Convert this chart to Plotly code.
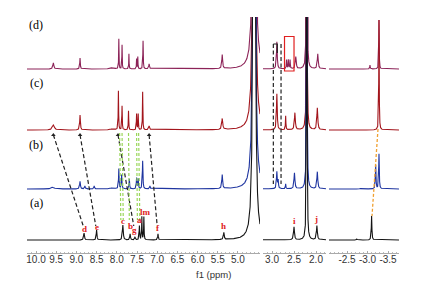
import numpy as np
import plotly.graph_objects as go

# ---------------- data: peak tables ----------------
# chemical shift (ppm), height (plot units), half-width (ppm)
SHIFT_A  = [8.81, 8.50, 7.85, 7.67, 7.55, 7.44, 7.38, 7.33, 6.98, 5.35, 4.60, 2.50, 2.21, 1.98, -2.74, -3.10]
HEIGHT_A = [7, 10, 15, 6, 3, 14, 23, 23, 6, 7, 1500, 13, 1000, 14, 1, 24]
WIDTH_A  = [0.012, 0.01, 0.012, 0.01, 0.01, 0.008, 0.006, 0.006, 0.01, 0.012, 0.015, 0.012, 0.004, 0.012, 0.01, 0.008]

SHIFT_B  = [9.58, 8.91, 8.79, 8.56, 8.10, 7.95, 7.88, 7.69, 7.51, 7.47, 7.36, 7.18, 5.39, 4.60, 2.89, 2.86, 2.69, 2.49, 2.21, 1.97, -2.82, -3.20, -3.28]
HEIGHT_B = [2, 7.5, 3, 3, 1.5, 20, 14, 10, 11, 10, 28, 3, 14, 1500, 17, 8, 5, 16, 1000, 17, 0.6, 24, 35]
WIDTH_B  = [0.04, 0.012, 0.01, 0.01, 0.05, 0.008, 0.008, 0.008, 0.008, 0.008, 0.008, 0.01, 0.012, 0.015, 0.01, 0.008, 0.006, 0.012, 0.004, 0.012, 0.01, 0.008, 0.008]

SHIFT_C  = [9.57, 8.91, 8.10, 7.96, 7.87, 7.71, 7.51, 7.47, 7.36, 7.20, 5.39, 4.60, 2.89, 2.69, 2.48, 2.21, 1.97, -3.28]
HEIGHT_C = [5, 15, 1.5, 39, 24, 19, 16, 16, 38, 4, 11, 1500, 36, 14, 17, 1000, 22, 110]
WIDTH_C  = [0.03, 0.01, 0.05, 0.006, 0.006, 0.006, 0.006, 0.006, 0.006, 0.015, 0.015, 0.015, 0.01, 0.006, 0.012, 0.004, 0.012, 0.006]

SHIFT_D  = [9.57, 8.91, 8.10, 7.95, 7.87, 7.70, 7.51, 7.48, 7.35, 7.20, 5.39, 4.60, 2.89, 2.67, 2.63, 2.59, 2.46, 2.21, 1.96, -3.06, -3.28]
HEIGHT_D = [6, 11, 1.5, 30, 24, 15, 10, 12, 28, 5, 14, 1500, 27, 9, 9, 9, 12, 1000, 15, 4, 49]
WIDTH_D  = [0.015, 0.008, 0.05, 0.005, 0.005, 0.005, 0.005, 0.005, 0.006, 0.012, 0.012, 0.015, 0.01, 0.006, 0.006, 0.006, 0.012, 0.004, 0.012, 0.006, 0.006]

SPECTRA_LABELS = ["(a)", "(b)", "(c)", "(d)"]
TICK_VALUES_1 = [10.0, 9.5, 9.0, 8.5, 8.0, 7.5, 7.0, 6.5, 6.0, 5.5, 5.0]
TICK_VALUES_2 = [3.0, 2.5, 2.0]
TICK_VALUES_3 = [-2.5, -3.0, -3.5]

PEAK_LETTERS = ["d", "e", "c", "b", "g", "a", "lm", "f", "h", "i", "j"]
PEAK_LETTER_SHIFTS = [8.81, 8.49, 7.85, 7.67, 7.55, 7.45, 7.30, 6.98, 5.35, 2.50, 2.00]

# ---------------- styling / layout ----------------
OFFSETS = {"(a)": 13, "(b)": 64, "(c)": 123, "(d)": 184}
COLORS = {"(a)": "#141414", "(b)": "#1f35a0", "(c)": "#a3151c", "(d)": "#8c2358"}
SEG_RANGES = [(10.223, 4.455), (3.205, 1.773), (-2.061, -3.768)]
SEG_DOMAINS = [(27 / 435, 260 / 435), (263 / 435, 326 / 435), (329 / 435, 399 / 435)]
XAX = ["x", "x2", "x3"]

tables = {
    "(a)": (SHIFT_A, HEIGHT_A, WIDTH_A),
    "(b)": (SHIFT_B, HEIGHT_B, WIDTH_B),
    "(c)": (SHIFT_C, HEIGHT_C, WIDTH_C),
    "(d)": (SHIFT_D, HEIGHT_D, WIDTH_D),
}


def spectrum(grid, shifts, heights, widths):
    y = np.zeros_like(grid)
    for s, h, w in zip(shifts, heights, widths):
        y += h * w * w / ((grid - s) ** 2 + w * w)
    return y


fig = go.Figure()

for lab in ["(d)", "(c)", "(b)", "(a)"]:
    sh, he, wi = tables[lab]
    for k, (r0, r1) in enumerate(SEG_RANGES):
        inside = [s for s in sh if r1 <= s <= r0]
        grid = np.unique(np.concatenate([np.arange(r1, r0, 0.001), np.array(inside), [r0]]))
        y = spectrum(grid, sh, he, wi) + OFFSETS[lab]
        fig.add_trace(go.Scatter(x=grid, y=y, mode="lines", xaxis=XAX[k], yaxis="y",
                                 line=dict(color=COLORS[lab], width=1.1), hoverinfo="skip",
                                 showlegend=False))

# black dashed correlation lines from (c) to (a)
ya_top = OFFSETS["(a)"] + 14
yc_bot = OFFSETS["(c)"] - 5
black_links = [(9.57, 8.83), (8.91, 8.52), (7.97, 7.58), (7.20, 7.00)]
for top, bot in black_links:
    fig.add_trace(go.Scatter(x=[top, bot], y=[yc_bot, ya_top], mode="lines", xaxis="x", yaxis="y",
                             line=dict(color="#222", width=1.2, dash="4px,2.5px"), hoverinfo="skip",
                             showlegend=False))
    fig.add_trace(go.Scatter(x=[top], y=[yc_bot], mode="markers", xaxis="x", yaxis="y",
                             marker=dict(symbol="triangle-up", size=4, color="#222"),
                             hoverinfo="skip", showlegend=False))

# green dashed lines
green_links = [(7.93, 7.90), (7.87, 7.84), (7.71, 7.69), (7.51, 7.49), (7.46, 7.43)]
for top, bot in green_links:
    fig.add_trace(go.Scatter(x=[top, bot], y=[OFFSETS["(c)"] - 3, OFFSETS["(a)"] + 20], mode="lines",
                             xaxis="x", yaxis="y",
                             line=dict(color="#9ad65a", width=1.2, dash="3px,2px"), hoverinfo="skip",
                             showlegend=False))

# black dashed verticals in the middle segment
for xv in [2.97, 2.795]:
    fig.add_trace(go.Scatter(x=[xv, xv], y=[209, 69], mode="lines", xaxis="x2", yaxis="y",
                             line=dict(color="#222", width=1.2, dash="4px,2.5px"), hoverinfo="skip",
                             showlegend=False))
fig.add_trace(go.Scatter(x=[2.97, 2.88, 2.88], y=[209, 209, 200], mode="lines", xaxis="x2", yaxis="y",
                         line=dict(color="#222", width=1.2), hoverinfo="skip", showlegend=False))

# orange dashed line in the right segment
fig.add_trace(go.Scatter(x=[-3.256, -3.11], y=[OFFSETS["(c)"] + 1, OFFSETS["(a)"] + 24], mode="lines",
                         xaxis="x3", yaxis="y",
                         line=dict(color="#f0a030", width=1.3, dash="3px,2px"), hoverinfo="skip",
                         showlegend=False))

# red rectangle
fig.add_shape(type="rect", xref="x2", yref="y", x0=2.716, x1=2.50, y0=182, y1=216.5,
              line=dict(color="#e02020", width=1.2))

annotations = []
label_y = {"(a)": 50, "(b)": 108, "(c)": 170, "(d)": 228}
for lab in SPECTRA_LABELS:
    annotations.append(dict(x=10.0, y=label_y[lab], xref="x", yref="y", text=lab, showarrow=False,
                            font=dict(family="Liberation Serif", size=12, color="#000")))

letter_y = [24, 26, 32, 27, 23, 33, 41, 25, 27, 32, 34]
for t, s, yy in zip(PEAK_LETTERS, PEAK_LETTER_SHIFTS, letter_y):
    xr = "x" if s > 4 else "x2"
    annotations.append(dict(x=s, y=yy, xref=xr, yref="y", text="<b>" + t + "</b>", showarrow=False,
                            font=dict(family="Liberation Serif", size=9, color="#e02020")))

annotations.append(dict(x=213 / 435, y=-0.093, xref="paper", yref="paper", text="f1 (ppm)",
                        showarrow=False, yanchor="middle",
                        font=dict(family="Liberation Sans", size=9.5, color="#333")))

axis_common = dict(showgrid=False, zeroline=False, showline=True, linecolor="#aaa", linewidth=1,
                   ticks="inside", ticklen=2, tickcolor="#aaa", anchor="y",
                   ticklabelstandoff=-3,
                   tickfont=dict(family="Liberation Sans", size=10, color="#333"),
                   minor=dict(ticks="inside", ticklen=1.5, dtick=0.1, tickcolor="#bbb"))

layout = dict(
    width=435, height=285,
    margin=dict(l=0, r=0, t=17, b=32),
    paper_bgcolor="white", plot_bgcolor="white",
    showlegend=False,
    yaxis=dict(range=[0, 236], visible=False, fixedrange=True),
    annotations=annotations,
)
tick_sets = [TICK_VALUES_1, TICK_VALUES_2, TICK_VALUES_3]
for k, name in enumerate(["xaxis", "xaxis2", "xaxis3"]):
    ax = dict(axis_common)
    ax.update(domain=list(SEG_DOMAINS[k]), range=list(SEG_RANGES[k]),
              tickvals=tick_sets[k], ticktext=[f"{v:.1f}" for v in tick_sets[k]])
    layout[name] = ax

fig.update_layout(**layout)
fig.write_html("out.html", config={"displayModeBar": False},
               post_script="document.body.style.margin='0';document.body.style.padding='0';")
